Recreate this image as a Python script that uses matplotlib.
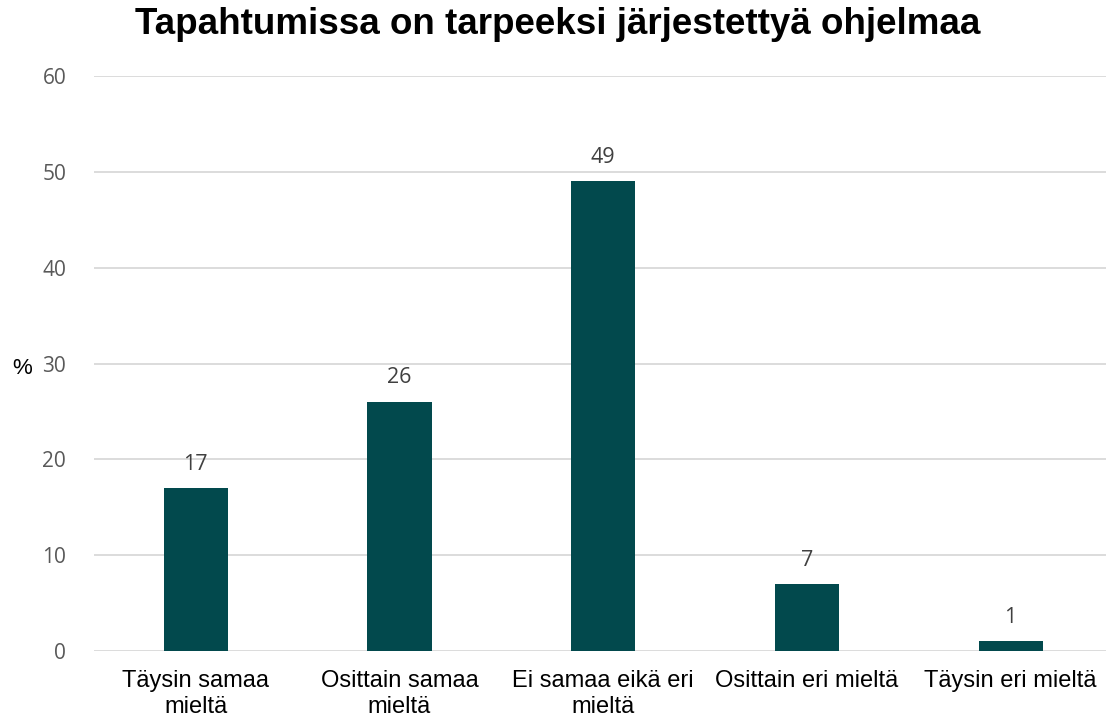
import matplotlib
matplotlib.use("Agg")
import matplotlib.pyplot as plt

# vastausjakauma, %
vastaukset = ["Täysin samaa\nmieltä", "Osittain samaa\nmieltä", "Ei samaa eikä eri\nmieltä",
              "Osittain eri mieltä", "Täysin eri mieltä"]
osuudet = [17, 26, 49, 7, 1]
y_ticks = [0, 10, 20, 30, 40, 50, 60]

vari = "#02494d"

fig = plt.figure(figsize=(11.06, 7.17), dpi=100)
ax = fig.add_axes([94 / 1106, 66 / 717, 1012 / 1106, 575 / 717])

x = list(range(len(vastaukset)))
pylvaat = ax.bar(x, osuudet, width=0.315, color=vari, zorder=3)

for xi, v in zip(x, osuudet):
    ax.text(xi, v + 1.4, str(v), ha="center", va="bottom", fontsize=15.5,
            color="#404040", family="Open Sans")

ax.set_xlim(-0.5, 4.468)
ax.set_ylim(0, 60)
ax.set_yticks(y_ticks)
ax.set_yticklabels([str(t) for t in y_ticks], fontsize=15, color="#595959", family="Open Sans")
ax.set_xticks(x)
ax.set_xticklabels(vastaukset, fontsize=17, color="black", family="Liberation Sans",
                   linespacing=1.2)
ax.tick_params(axis="both", length=0)
ax.tick_params(axis="y", pad=20)
ax.tick_params(axis="x", pad=14)

ax.grid(axis="y", color="#d9d9d9", linewidth=1.3, zorder=0)
for s in ax.spines.values():
    s.set_visible(False)

fig.text(22 / 1106, 1 - 368 / 717, "%", fontsize=16, ha="center", va="center",
         family="Liberation Sans")
fig.suptitle("Tapahtumissa on tarpeeksi järjestettyä ohjelmaa", x=558 / 1106, y=1 - 25 / 717,
             va="center", fontsize=26.5, fontweight="bold", family="Liberation Sans")

fig.savefig("out.png", dpi=100)
